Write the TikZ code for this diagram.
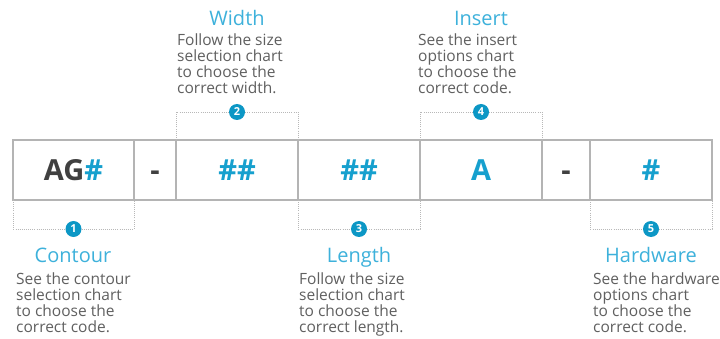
\documentclass[tikz,border=0pt]{standalone}
\usepackage{fontspec}
\setmainfont{Open Sans}
\usetikzlibrary{positioning}

\definecolor{codeblue}{HTML}{16A0CE}
\definecolor{titleblue}{HTML}{3DB1DB}
\definecolor{numblue}{HTML}{0C97C5}
\definecolor{textgray}{HTML}{606060}
\definecolor{darkgray}{HTML}{404040}
\definecolor{linegray}{HTML}{B4B4B4}
\definecolor{dotgray}{HTML}{B8B8B8}

\tikzset{
    cell/.style={draw=linegray, line width=1.3pt, minimum height=60pt, inner sep=0pt, outer sep=0pt,
        text height=21pt, text depth=0pt, text=codeblue, font=\fontsize{29}{30}\selectfont\bfseries},
    bracket/.style={draw=dotgray, line width=0.9pt, dash pattern=on 0.9pt off 1.2pt},
    num/.style={circle, fill=numblue, text=white, minimum size=16pt, inner sep=0pt,
        font=\fontsize{11}{11}\selectfont\bfseries},
    title/.style={anchor=base, text=titleblue, inner sep=0pt, font=\fontsize{20}{24}\selectfont},
    info/.style={anchor=base west, align=left, text=textgray, inner sep=0pt,
        font=\fontsize{15.5}{16}\selectfont},
}

\begin{document}
\begin{tikzpicture}[x=1pt, y=-1pt, node distance=0pt]
    \path[fill=white, use as bounding box] (0,0) rectangle (720,339);
    % the code cells
    \node (contour) at (13,140) [cell, anchor=north west, minimum width=121pt] {\textcolor{darkgray}{AG}\#};
    \node (dash1) [cell, right=of contour, minimum width=42pt, text=darkgray] {-};
    \node (width) [cell, right=of dash1, minimum width=122pt] {\#\#};
    \node (length) [cell, right=of width, minimum width=122pt] {\#\#};
    \node (insert) [cell, right=of length, minimum width=122pt] {A};
    \node (dash2) [cell, right=of insert, minimum width=48pt, text=darkgray] {-};
    \node (hardware) [cell, right=of dash2, minimum width=122pt] {\#};
    % numbered markers
    \node (n1) at ([yshift=-29pt]contour.south) [num] {1};
    \node (n2) at ([yshift=28pt]width.north) [num] {2};
    \node (n3) at ([yshift=-29pt]length.south) [num] {3};
    \node (n4) at ([yshift=28pt]insert.north) [num] {4};
    \node (n5) at ([yshift=-29pt]hardware.south) [num] {5};
    % dotted brackets
    \draw[bracket] (contour.south west) |- (n1.west);
    \draw[bracket] (n1.east) -| (contour.south east);
    \draw[bracket] (width.north west) |- (n2.west);
    \draw[bracket] (n2.east) -| (width.north east);
    \draw[bracket] (length.south west) |- (n3.west);
    \draw[bracket] (n3.east) -| (length.south east);
    \draw[bracket] (insert.north west) |- (n4.west);
    \draw[bracket] (n4.east) -| (insert.north east);
    \draw[bracket] (hardware.south west) |- (n5.west);
    \draw[bracket] (n5.east) -| (hardware.south east);
    % titles and notes (the note's base is its last line)
    \node (t1) at (73,262) [title] {Contour};
    \node (d1) at (16,332) [info] {See the contour\\selection chart\\to choose the\\correct code.};
    \node (t2) at (237,26) [title] {Width};
    \node (d2) at (177,94) [info] {Follow the size\\selection chart\\to choose the\\correct width.};
    \node (t3) at (359,262) [title] {Length};
    \node (d3) at (299,332) [info] {Follow the size\\selection chart\\to choose the\\correct length.};
    \node (t4) at (481,26) [title] {Insert};
    \node (d4) at (418,94) [info] {See the insert\\options chart\\to choose the\\correct code.};
    \node (t5) at (651,262) [title] {Hardware};
    \node (d5) at (593,332) [info] {See the hardware\\options chart\\to choose the\\correct code.};
\end{tikzpicture}
\end{document}
